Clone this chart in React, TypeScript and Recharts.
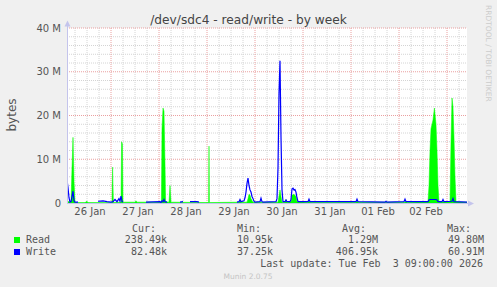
import { ComposedChart, Area, Line, XAxis, YAxis, CartesianGrid, ReferenceLine } from 'recharts';

// hours since the left edge of the graph (Jan 26 ~02:00), values in MB/s
const readSamples: [number, number][] = [
  [0, 0.6], [1, 0.3], [2, 0.1], [2.5, 8], [3, 15], [3.5, 5], [4, 0.1], [9, 0.1], [10, 0.4], [10.5, 0.1],
  [22.5, 0.1], [22.8, 8.2], [23.2, 0.1], [27, 0.2], [27.3, 14], [27.7, 13.5], [28, 0.2], [34, 0.2], [34.5, 0.5], [35, 0.2],
  [47.2, 0.2], [47.5, 17], [48, 21.7], [48.5, 21], [49, 9], [49.3, 0.3], [51, 0.2], [51.5, 4], [52, 0.2],
  [70.8, 0.1], [71, 13], [71.2, 0.1], [86, 0.2], [86.5, 0.6], [87, 0.2],
  [90, 0.2], [90.5, 1], [91, 2], [91.5, 1.8], [92, 1], [93, 0.2],
  [105.5, 0.2], [106.5, 3], [107, 1.5], [107.5, 0.2], [109, 0.2], [109.5, 0.8], [110, 0.2],
  [112, 0.3], [112.5, 1.8], [113.5, 2], [114.5, 1.5], [115, 0.3], [120.5, 0.2], [121, 0.7], [121.5, 0.2],
  [144.5, 0.2], [145, 0.6], [145.5, 0.2], [169, 0.2], [169.5, 0.4], [170, 0.2],
  [180.5, 0.3], [181, 4], [181.5, 12], [182, 17], [183, 19], [183.7, 21.7], [184.5, 18], [185, 12], [185.5, 4], [186, 0.3],
  [191.5, 0.3], [192, 14], [192.5, 24], [193, 22], [193.5, 15], [194, 6], [194.5, 0.3], [200, 0.2],
];

const writeSamples: [number, number | null][] = [
  [0, 5.3], [0.5, 3.5], [1, 1.2], [1.5, 0.2], [2, 0.3], [2.5, 1.5], [3, 2.7], [3.5, 0.5], [4, 0.2], [5.5, 0.2],
  [6, null], [15, null], [15.5, 0.4], [18, 0.5], [20, 0.3], [22, 0.2], [23, 0.3], [24, 0.8], [25, 0.3], [26, 1.0],
  [26.5, 0.4], [27, 1.6], [27.5, 0.4], [28, 0.2], [28.5, null], [39, null], [39.5, 0.2], [46.5, 0.3], [47, 0.1],
  [47.5, 0.5], [48, 0.3], [48.5, 0.8], [49, 0.3], [50, 0.2], [50.5, null], [56, null], [56.5, 0.2], [58, 0.3],
  [58.5, null], [61, null], [61.5, 0.3], [65, 0.3], [66, 0.2], [66.5, null], [84.5, null], [85, 0.2], [86, 0.3],
  [86.5, 0.8], [87, 0.3], [88.5, 0.5], [89, 1.2], [89.5, 2.5], [90, 4.5], [90.5, 5.7], [91, 4], [91.5, 3], [92, 2.5],
  [92.5, 1.5], [93, 1], [93.5, 0.4], [94, 0.2], [96.5, 0.3], [97, 1.1], [97.5, 0.3], [98, 0.2],
  [104.5, 0.3], [105, 1], [105.5, 8], [106, 25], [106.5, 32.5], [107, 15], [107.5, 3], [108, 0.3],
  [109, 0.3], [109.5, 0.7], [110, 0.3], [111.5, 0.3], [112, 0.8], [112.5, 3.2], [113, 3.4], [113.5, 3.0], [114, 3.1],
  [114.5, 2.5], [115, 1.2], [115.5, 0.3], [120.5, 0.3], [121, 0.9], [121.5, 0.3], [144.5, 0.3], [145, 0.9], [145.5, 0.3],
  [159, 0.2], [159.5, 0.4], [160, 0.2], [168.5, 0.3], [169, 0.9], [169.5, 0.3],
  [180.5, 0.3], [181, 0.7], [181.5, 0.8], [184.5, 0.8], [185, 0.7], [185.5, 0.3],
  [187.5, 0.3], [188, 0.8], [188.5, 0.3], [192.5, 0.4], [193, 1.0], [193.5, 0.3], [200, 0.2],
];

const dayLabels = ['26 Jan', '27 Jan', '28 Jan', '29 Jan', '30 Jan', '31 Jan', '01 Feb', '02 Feb'];
const dayLabelHours = [11.5, 35.5, 59.5, 83.5, 107.5, 131.5, 155.5, 179.5];
const midnightHours = [22, 46, 70, 94, 118, 142, 166, 190];
const sixHourLines = [4, 10, 16, 28, 34, 40, 52, 58, 64, 76, 82, 88, 100, 106, 112, 124, 130, 136, 148, 154, 160, 172, 178, 184, 196];
const yTicks = [0, 10, 20, 30, 40];
const yMinor = [2, 4, 6, 8, 12, 14, 16, 18, 22, 24, 26, 28, 32, 34, 36, 38];

const legendRows = [
  { name: 'Read', color: '#00ff00', cur: '238.49k', min: '10.95k', avg: '1.29M', max: '49.80M' },
  { name: 'Write', color: '#0000ff', cur: '82.48k', min: '37.25k', avg: '406.95k', max: '60.91M' },
];

const readData = readSamples.map(([h, v]) => ({ h, read: v }));
const writeData = writeSamples.map(([h, v]) => ({ h, write: v }));

const TXT = '#555555';
const AXIS = '#c4c4ec';
const MARGIN = { top: 28, right: 30, bottom: 64, left: 0 };

// both charts use the same axes, so the grid chart lines up under the data chart
function xAxis(showTicks: boolean) {
  return (
    <XAxis
      dataKey="h"
      type="number"
      domain={[0, 200]}
      ticks={dayLabelHours}
      tickFormatter={(v: number) => (showTicks ? dayLabels[dayLabelHours.indexOf(v)] : '')}
      axisLine={false}
      tickLine={false}
      tickSize={0}
      tickMargin={5}
      height={20}
      tick={{ fill: TXT, fontSize: 10, fontFamily: 'DejaVu Sans' }}
      allowDataOverflow
    />
  );
}

function yAxis(showTicks: boolean) {
  return (
    <YAxis
      type="number"
      domain={[0, 40]}
      ticks={yTicks}
      tickFormatter={(v: number) => (!showTicks ? '' : v === 0 ? '0' : `${v} M`)}
      axisLine={false}
      tickLine={false}
      tickSize={0}
      tickMargin={6}
      width={67}
      tick={{ fill: TXT, fontSize: 10, fontFamily: 'DejaVu Sans' }}
      allowDataOverflow
    />
  );
}

export default function App() {
  return (
    <div style={{ position: 'fixed', left: 0, top: 0, width: 497, height: 287, background: '#f0f0f0', fontFamily: 'DejaVu Sans' }}>
      <div style={{ position: 'absolute', left: 0, top: 0 }}>
        <ComposedChart width={497} height={287} margin={MARGIN}>
          <CartesianGrid fill="#ffffff" stroke="none" horizontal={false} vertical={false} />
          {xAxis(true)}
          {yAxis(true)}
          {yMinor.map((v) => (
            <ReferenceLine key={`ym${v}`} y={v} stroke="#d4d4d4" strokeDasharray="1 1" />
          ))}
          {sixHourLines.map((v) => (
            <ReferenceLine key={`xm${v}`} x={v} stroke="#d4d4d4" strokeDasharray="1 1" />
          ))}
          {yTicks.slice(1).map((v) => (
            <ReferenceLine key={`yM${v}`} y={v} stroke="#eaa0a0" strokeDasharray="1 1" />
          ))}
          {midnightHours.map((v) => (
            <ReferenceLine key={`xM${v}`} x={v} stroke="#eaa0a0" strokeDasharray="1 1" />
          ))}
        </ComposedChart>
      </div>
      <div style={{ position: 'absolute', left: 0, top: 0 }}>
        <ComposedChart width={497} height={287} margin={MARGIN}>
          {xAxis(false)}
          {yAxis(false)}
          <Area
            data={readData}
            dataKey="read"
            type="linear"
            fill="#00ff00"
            fillOpacity={1}
            stroke="#00ff00"
            strokeWidth={0.5}
            isAnimationActive={false}
          />
          <Line
            data={writeData}
            dataKey="write"
            type="linear"
            stroke="#0000ff"
            strokeWidth={1.2}
            dot={false}
            connectNulls={false}
            isAnimationActive={false}
          />
        </ComposedChart>
      </div>
      <svg width={497} height={287} style={{ position: 'absolute', left: 0, top: 0, pointerEvents: 'none' }}>
        <line x1={67.5} y1={203.5} x2={67.5} y2={24} stroke={AXIS} />
        <polygon points="64.5,26.5 70.5,26.5 67.5,20.5" fill={AXIS} />
        <line x1={67} y1={203.5} x2={469} y2={203.5} stroke={AXIS} />
        <polygon points="468,200.5 468,206.5 474,203.5" fill={AXIS} />
        <text x={248.5} y={24} textAnchor="middle" fontSize={12.2} fill="#444444" fontFamily="DejaVu Sans">
          /dev/sdc4 - read/write - by week
        </text>
        <text x={16} y={115} transform="rotate(-90 16 115)" textAnchor="middle" fontSize={12} fill={TXT} fontFamily="DejaVu Sans">
          bytes
        </text>
        <text x={486} y={5} transform="rotate(90 486 5)" fontSize={7.5} fill="#cccccc" fontFamily="DejaVu Sans">
          RRDTOOL / TOBI OETIKER
        </text>
        <g fontFamily="DejaVu Sans Mono" fontSize={10} fill={TXT}>
          <text x={132} y={232}>Cur:</text>
          <text x={237} y={232}>Min:</text>
          <text x={342} y={232}>Avg:</text>
          <text x={447} y={232}>Max:</text>
          {legendRows.map((r, i) => {
            const y = 243 + i * 12;
            return (
              <g key={r.name}>
                <rect x={14} y={y - 6} width={6} height={6} fill={r.color} />
                <text x={26} y={y}>{r.name}</text>
                <text x={167} y={y} textAnchor="end">{r.cur}</text>
                <text x={273} y={y} textAnchor="end">{r.min}</text>
                <text x={378} y={y} textAnchor="end">{r.avg}</text>
                <text x={484} y={y} textAnchor="end">{r.max}</text>
              </g>
            );
          })}
          <text x={483} y={267} textAnchor="end" style={{ whiteSpace: 'pre' }}>
            Last update: Tue Feb  3 09:00:00 2026
          </text>
        </g>
        <text x={248} y={279} textAnchor="middle" fontSize={7.5} fill="#c4c4c4" fontFamily="DejaVu Sans">
          Munin 2.0.75
        </text>
      </svg>
    </div>
  );
}
